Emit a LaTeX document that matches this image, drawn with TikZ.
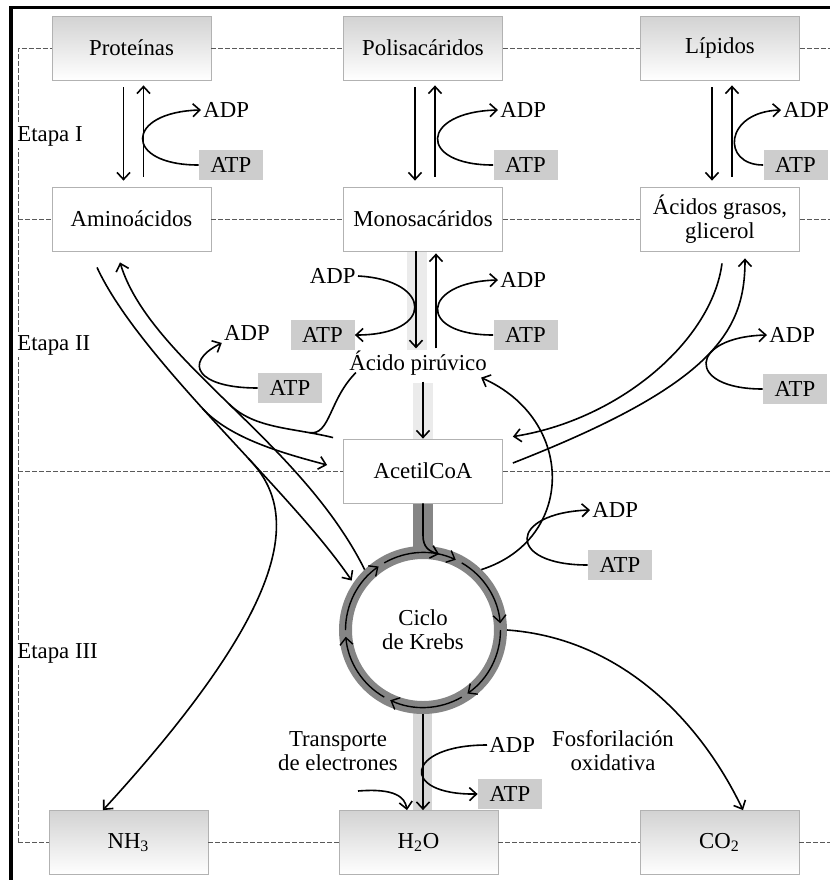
\documentclass[tikz,border=0pt]{standalone}
\usepackage{fontspec}
\setmainfont{Liberation Serif}
\usetikzlibrary{arrows.meta}
\definecolor{atpgray}{HTML}{CDCDCD}
\definecolor{ringgray}{HTML}{858585}
\definecolor{bandgray}{HTML}{D6D6D6}
\tikzset{
  >={Straight Barb[length=3.5pt,width=6.5pt]},
  box/.style={draw=gray!60, fill=white, minimum width=79.5pt, minimum height=32pt, align=center, inner sep=2pt},
  shadedbox/.style={box, top color=gray!35, bottom color=white},
  atp/.style={fill=atpgray, minimum width=32pt, minimum height=15pt, inner sep=1pt},
  adp/.style={inner sep=1pt},
  stage/.style={fill=white, inner sep=1pt, anchor=west},
  guide/.style={dash pattern=on 2.5pt off 1pt, gray!70!black, line width=0.5pt},
  flow/.style={->, line width=0.8pt},
  link/.style={line width=0.8pt},
}
\begin{document}
\begin{tikzpicture}[x=0.5pt, y=-0.5pt, font=\fontsize{11.4}{12}\selectfont]
\useasboundingbox (0,0) rectangle (830,880);
% frame
\draw[line width=1.75pt] (11,880) -- (11,7.5) -- (830,7.5);
\coordinate (gl) at (18,0);
\coordinate (gr) at (830,0);
%-----------------------------------------------------------%
% gray bands and Krebs ring
\fill[bandgray!50] (407,251) rectangle (427,350);
\fill[bandgray!50] (413,383) rectangle (433,439);
\fill[ringgray] (413,503) rectangle (433,553);
\fill[bandgray] (413,707) rectangle (432,812);
\node[circle, minimum size=84pt, inner sep=0pt, outer sep=0pt, align=center] (krebs) at (423,630) {Ciclo\\de Krebs};
\draw[ringgray, line width=6.5pt] (krebs.center) circle[radius=38.75pt];
% boxes
\node[shadedbox] (prot)  at (131.5,48) {Proteínas};
\node[shadedbox] (polis) at (423,48)   {Polisacáridos};
\node[shadedbox] (lip)   at (720,48)   {Lípidos};
\node[box] (amino) at (131.5,219) {Aminoácidos};
\node[box] (mono)  at (423,219)   {Monosacáridos};
\node[box] (acgr)  at (720,219)   {Ácidos grasos,\\glicerol};
\node[box] (acetil) at (423,471)  {AcetilCoA};
\node[shadedbox] (nh3)  at (128.5,842.5) {NH\textsubscript{3}};
\node[shadedbox] (agua) at (418.5,842.5) {H\textsubscript{2}O};
\node[shadedbox] (co2)  at (719.5,842.5) {CO\textsubscript{2}};
\node[inner sep=1pt] (piru) at (418,363) {Ácido pirúvico};
% stage guides
\draw[guide] (gl |- nh3.west) -- (gl |- prot.west) -- (prot.west);
\draw[guide] (prot.east) -- (polis.west) (polis.east) -- (lip.west) (lip.east) -- (gr |- lip.east);
\draw[guide] (gl |- amino.west) -- (amino.west) (amino.east) -- (mono.west) (mono.east) -- (acgr.west) (acgr.east) -- (gr |- acgr.east);
\draw[guide] (gl |- acetil.west) -- (acetil.west) (acetil.east) -- (gr |- acetil.east);
\draw[guide] (gl |- nh3.west) -- (nh3.west) (nh3.east) -- (agua.west) (agua.east) -- (co2.west) (co2.east) -- (gr |- co2.east);
\node[stage] (et1) at (15,136) {Etapa I};
\node[stage] (et2) at (15,345) {Etapa II};
\node[stage] (et3) at (15,653) {Etapa III};
% ATP / ADP labels
\node[atp] (atp1) at (231,165) {ATP};
\node[adp, anchor=west] (adp1) at (201,110) {ADP};
\node[atp] (atp2) at (525.5,165) {ATP};
\node[adp, anchor=west] (adp2) at (498,110) {ADP};
\node[atp] (atp3) at (795.5,165) {ATP};
\node[adp, anchor=west] (adp3) at (781,110) {ADP};
\node[adp, anchor=east] (adpM1) at (358,276) {ADP};
\node[atp] (atpM1) at (322.5,335) {ATP};
\node[atp] (atpM2) at (525.5,335) {ATP};
\node[adp, anchor=west] (adpM2) at (498,280) {ADP};
\node[adp] (adpA) at (247,333) {ADP};
\node[atp] (atpA) at (290,388) {ATP};
\node[adp, anchor=west] (adpL) at (767,335) {ADP};
\node[atp] (atpL) at (795,389) {ATP};
\node[adp, anchor=west] (adpK) at (590,510) {ADP};
\node[atp] (atpK) at (620,565) {ATP};
\node[adp, anchor=west] (adpB) at (487,745) {ADP};
\node[atp] (atpB) at (510,794) {ATP};
\node[align=center] (transp) at (338,751) {Transporte\\de electrones};
\node[align=center] (fosf) at (613,751) {Fosforilación\\oxidativa};
\coordinate (etr) at (358,791);
%-----------------------------------------------------------%
% Etapa I
\foreach \hi/\lo in {prot/amino, polis/mono, lip/acgr}
{ \draw[flow, shorten <=3.5pt, shorten >=3pt] ([xshift=-4pt]\hi.south) -- ([xshift=-4pt]\lo.north);
  \draw[flow, shorten <=5pt, shorten >=2.5pt] ([xshift=6pt]\lo.north) -- ([xshift=6pt]\hi.south);}
\draw[flow] (atp1.west) .. controls +(-76,0) and +(-76,2) .. (adp1.west);
\draw[flow] (atp2.west) .. controls +(-76,0) and +(-78,2) .. (adp2.west);
\draw[flow] (atp3.west) .. controls +(-42,0) and +(-57,2) .. (adp3.west);
% Etapa II, glucolysis
\draw[flow] ([xshift=-3.5pt]mono.south) -- ([xshift=-3.5pt]mono.south |- piru.north);
\draw[flow, shorten >=1pt] ([xshift=6.5pt]mono.south |- piru.north) -- ([xshift=6.5pt]mono.south);
\draw[flow, shorten <=2pt] (piru.south -| acetil.north) -- (acetil.north);
\draw[flow] (adpM1.east) .. controls +(75,4) and +(80,0) .. (atpM1.east);
\draw[flow] (atpM2.west) .. controls +(-77,0) and +(-77,2) .. (adpM2.west);
% amino acids
\draw[flow, shorten >=1.5pt] ([shift={(-17.25pt,-8pt)}]amino.south) .. controls +(43,93) and +(-63,-93) .. (krebs.146)
   coordinate[pos=0.45] (lsplit) coordinate[pos=0.6] (lnh);
\draw[flow] (lsplit) .. controls +(28,30) and +(-45,-12) .. ([shift={(-8pt,3pt)}]acetil.west);
\draw[flow] (lnh) .. controls +(52,52) and +(192,-210) .. ([xshift=-12.75pt]nh3.north);
\draw[flow] (krebs.134) .. controls +(-65,-130) and +(30,98) .. ([shift={(-5.75pt,-5.5pt)}]amino.south)
   coordinate[pos=0.5] (rsplit);
\draw[link] ([shift={(-5pt,0.5pt)}]acetil.north west) .. controls +(-40,-10) and +(25,25) .. (rsplit)
   coordinate[pos=0.2] (pmerge);
\draw[link] ([shift={(4.5pt,2.5pt)}]piru.south west) .. controls +(-27,27) and +(21,3) .. (pmerge);
\draw[flow] (atpA.west) .. controls +(-60,0) and +(-40,20) .. (adpA.south west);
% fatty acids
\draw[flow] ([shift={(1pt,-6pt)}]acgr.south) .. controls +(-10,77) and +(107,-17) .. ([shift={(5pt,1pt)}]acetil.north east);
\draw[flow] ([shift={(5pt,4pt)}]acetil.east) .. controls +(202,-79) and +(0,72) .. ([shift={(12.5pt,-3.5pt)}]acgr.south);
\draw[flow] (atpL.west) .. controls +(-78,0) and +(-78,2) .. (adpL.west);
% Etapa III, Krebs cycle
\path (krebs.center) ++(78:38.75pt) coordinate (kin);
\draw[flow] (acetil.south) -- ++(0,32) .. controls +(0,12) and +(-10,-3) .. (kin);
\foreach \a in {125,65,...,-175}
  { \draw[->, line width=0.7pt] (krebs.center) ++(\a+55:38.75pt) arc[start angle=\a+55, end angle=\a, radius=38.75pt];}
\draw[flow] (krebs.46) .. controls +(94,-30) and +(95,42) .. ([xshift=-4pt]piru.south east);
\draw[flow] (atpK.west) .. controls +(-82,0) and +(-82,3) .. (adpK.west);
\draw[flow] (krebs.east) .. controls +(113,8) and +(-43,-90) .. ([xshift=11.75pt]co2.north);
% electron transport
\draw[flow] (krebs.south) -- (krebs.south |- agua.north);
\draw[flow] (etr) .. controls +(37,-3) and +(-2,-13) .. ([xshift=-5.75pt]agua.north);
\draw[flow] (adpB.west) .. controls +(-82,0) and +(-79,1) .. (atpB.west);
\end{tikzpicture}
\end{document}
